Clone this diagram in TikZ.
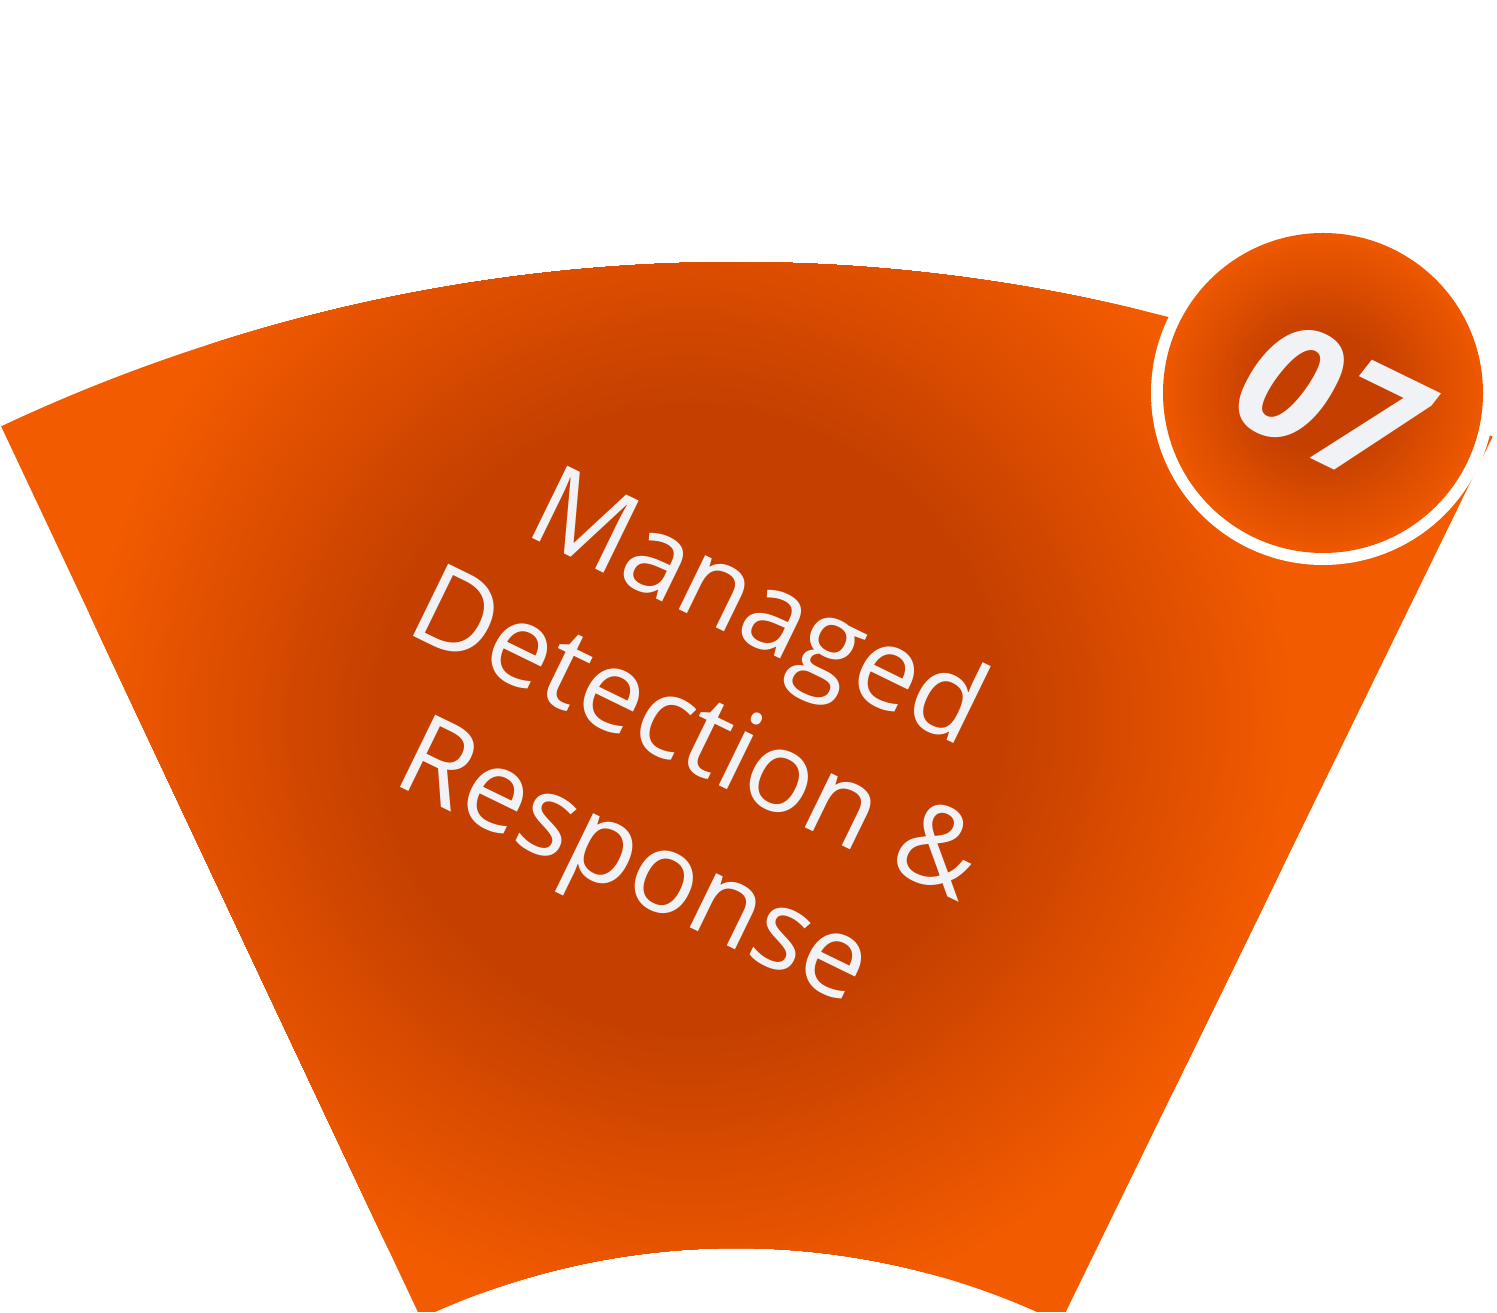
\documentclass[tikz,border=0pt]{standalone}
\usepackage{fontspec}
\setmainfont{Open Sans}
\usepackage{tikz}
\definecolor{mdrdark}{HTML}{C43F00}
\definecolor{mdrbright}{HTML}{F35B00}
\definecolor{mdrtext}{HTML}{F0F2F5}
\tikzset{label text/.style={text=mdrtext, inner sep=0pt}}

\begin{document}
\begin{tikzpicture}[x=0.01cm, y=0.01cm]
\newcommand{\rout}{1726}
\newcommand{\rin}{740}
\newcommand{\angL}{115.2}
\newcommand{\angR}{64}
\newcommand{\tilt}{-26}
\useasboundingbox (0, 0) rectangle (1497, 1312);
\coordinate (hub) at (736, -676);
\coordinate (glowc) at (690, 592);
\coordinate (badge) at (1323, 919);
\begin{scope}
  \clip[shift={(hub)}] (\angL:\rout) arc[start angle=\angL, end angle=\angR, radius=\rout]
    -- (\angR:\rin) arc[start angle=\angR, end angle=\angL, radius=\rin] -- cycle;
  \fill[mdrbright] (0, 0) rectangle (1497, 1312);
  \foreach \k in {0,...,50} {
    \pgfmathsetmacro{\rr}{610-6*\k}
    \pgfmathsetmacro{\pc}{2*\k}
    \fill[mdrdark!\pc!mdrbright] (glowc) circle (\rr);
  }
\end{scope}
%% number badge
\fill[white] (badge) circle (172);
\foreach \k in {0,...,25} {
  \pgfmathsetmacro{\rr}{160-4*\k}
  \pgfmathsetmacro{\pc}{12+3.5*\k}
  \fill[mdrdark!\pc!mdrbright] (badge) circle (\rr);
}
\node[label text, font=\fontsize{46}{46}\selectfont\bfseries\itshape, rotate=\tilt] (num) at (1330, 909) {07};
\node[label text, font=\fontsize{32}{40}\selectfont, align=center, rotate=\tilt] (service) at (694, 571) {Managed\\Detection \&\\Response};
\end{tikzpicture}
\end{document}
